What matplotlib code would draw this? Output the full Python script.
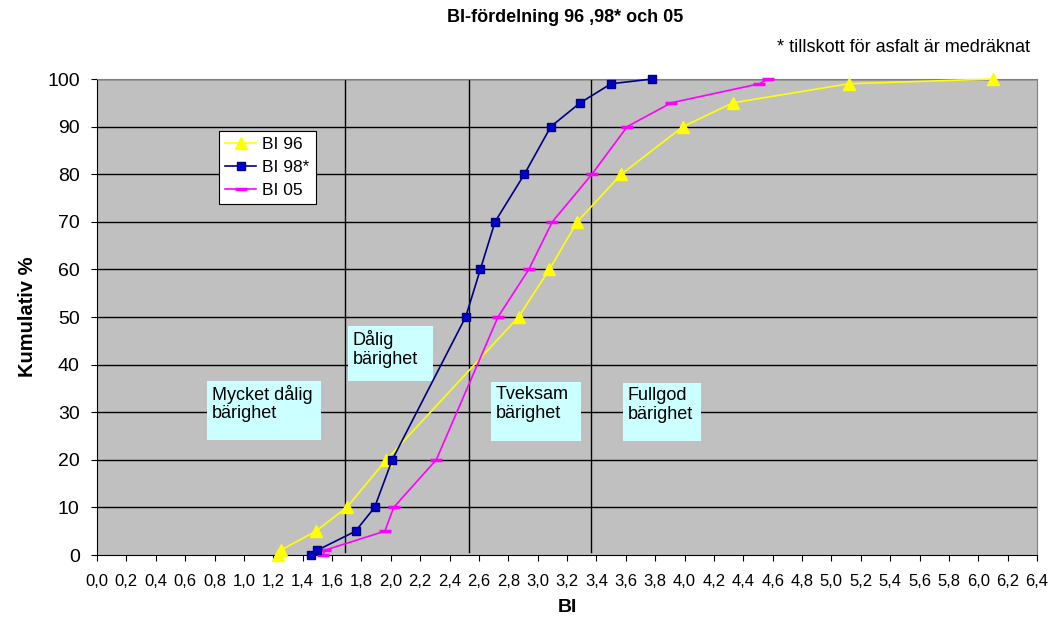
import matplotlib
matplotlib.use("Agg")
from matplotlib import pyplot as plt
from matplotlib.patches import Rectangle
from matplotlib.ticker import MultipleLocator, FuncFormatter

plt.rcParams['font.family'] = ['Liberation Sans', 'DejaVu Sans']

# cumulative percentages shared by all three series
kum = [0, 1, 5, 10, 20, 50, 60, 70, 80, 90, 95, 99, 100]

bi_96 = [1.23, 1.25, 1.49, 1.70, 1.97, 2.87, 3.08, 3.27, 3.57, 3.99, 4.33, 5.12, 6.10]
bi_98 = [1.46, 1.50, 1.76, 1.89, 2.01, 2.51, 2.61, 2.71, 2.91, 3.09, 3.29, 3.50, 3.78]
bi_05 = [1.54, 1.55, 1.96, 2.02, 2.31, 2.73, 2.94, 3.10, 3.37, 3.61, 3.91, 4.51, 4.57]

# class limits for bearing capacity
gränser = [1.69, 2.53, 3.36]
klasser = ["Mycket dålig\nbärighet", "Dålig\nbärighet", "Tveksam\nbärighet", "Fullgod\nbärighet"]
# label boxes: (x0, x1, y_bottom, y_top) in data units
klass_box = [(0.75, 1.525, 24.2, 36.6), (1.71, 2.29, 36.6, 48.1),
             (2.683, 3.295, 23.9, 36.3), (3.581, 4.112, 23.9, 36.1)]

fig = plt.figure(figsize=(10.54, 6.23), dpi=100)
ax = fig.add_axes([97/1054, 1 - 555/623, 940/1054, 476/623])
ax.set_facecolor('#C0C0C0')

for y in range(10, 101, 10):
    ax.axhline(y, color='black', lw=1, zorder=1)

for g in gränser:
    ax.plot([g, g], [0.6, 99.8], color='black', lw=1, zorder=1)

for txt, (x0, x1, y0, y1) in zip(klasser, klass_box):
    ax.add_patch(Rectangle((x0, y0), x1 - x0, y1 - y0, fc='#CCFFFF', ec='none', zorder=2))
    ax.text(x0 + 0.03, y1 - 0.9, txt, fontsize=13, va='top', ha='left', zorder=2,
            linespacing=1.1)

ax.plot(bi_96, kum, color='#FFFF00', lw=1.2, marker='^', ms=8, mfc='#FFFF00', mec='#FFFF00',
        label='BI 96', zorder=3, clip_on=False)
ax.plot(bi_98, kum, color='#000080', lw=1.2, marker='s', ms=5.5, mfc='#0000CC', mec='#000080',
        label='BI 98*', zorder=4, clip_on=False)
ax.plot(bi_05, kum, color='#FF00FF', lw=1.2, marker='_', ms=8, mew=2.5, mfc='#FF00FF', mec='#FF00FF',
        label='BI 05', zorder=3, clip_on=False)

ax.set_xlim(0, 6.4)
ax.set_ylim(0, 100)
ax.xaxis.set_major_locator(MultipleLocator(0.2))
ax.yaxis.set_major_locator(MultipleLocator(10))
ax.xaxis.set_major_formatter(FuncFormatter(lambda v, p: f"{v:.1f}".replace('.', ',')))
ax.tick_params(axis='x', direction='out', length=4, labelsize=12, pad=10)
ax.tick_params(axis='y', direction='out', length=4.5, labelsize=14, pad=8)

for side in ['top', 'right']:
    ax.spines[side].set_color('#808080')
ax.spines['left'].set_color('black')
ax.spines['bottom'].set_color('black')

ax.set_xlabel('BI', fontsize=14, fontweight='bold', labelpad=7)
ax.set_ylabel('Kumulativ %', fontsize=14.5, fontweight='bold', labelpad=7)

leg = ax.legend(loc='upper left', bbox_to_anchor=((219 - 97) / 940, (555 - 131) / 476),
                fontsize=12.5, frameon=True, fancybox=False, framealpha=1,
                edgecolor='black', handlelength=1.8, borderpad=0.35, labelspacing=0.45,
                handletextpad=0.35, borderaxespad=0)
leg.get_frame().set_linewidth(0.8)

fig.text(565 / 1054, 1 - 18 / 623, 'BI-fördelning 96 ,98* och 05', fontsize=13,
         fontweight='bold', ha='center', va='center')
fig.text(1030 / 1054, 1 - 48 / 623, '* tillskott för asfalt är medräknat', fontsize=13,
         ha='right', va='center')

fig.savefig('out.png', dpi=100)
